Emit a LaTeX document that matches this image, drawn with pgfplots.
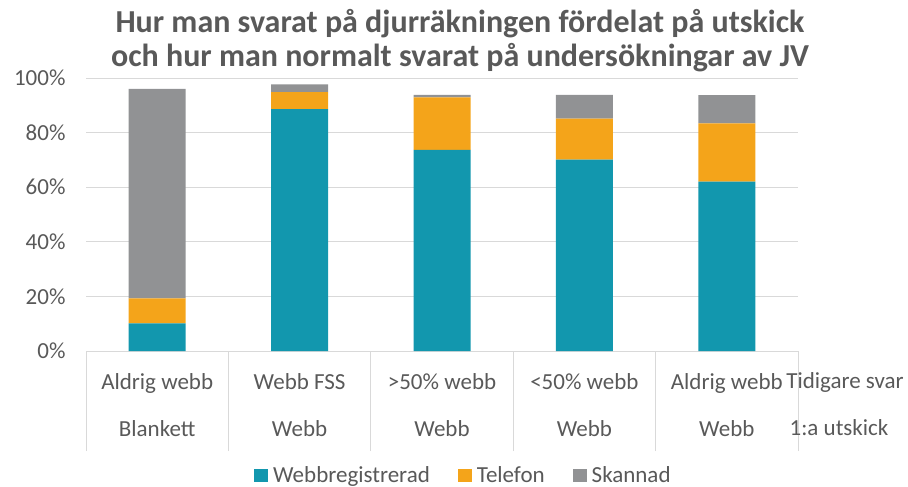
\documentclass[border=0pt]{standalone}
\usepackage{pgfplots}
\pgfplotsset{compat=1.18}
\usepackage{fontspec}
\setmainfont{Carlito}
\definecolor{teal1}{HTML}{1297AE}
\definecolor{orange1}{HTML}{F4A41A}
\definecolor{gray1}{HTML}{919294}
\definecolor{txt}{HTML}{595959}
\definecolor{gridc}{HTML}{D9D9D9}
\begin{document}
\begin{tikzpicture}
\path[use as bounding box] (0bp,0bp) rectangle (908bp,487bp);
\begin{axis}[
  at={(86bp,136bp)}, anchor=south west,
  width=712bp, height=273bp, scale only axis,
  clip=false,
  ybar stacked, bar width=57bp,
  xmin=-0.5, xmax=4.5, ymin=0, ymax=100,
  ytick={0,20,...,100},
  yticklabel={\pgfmathprintnumber{\tick}\%},
  /pgf/number format/assume math mode=true,
  ymajorgrids, grid style={gridc, line width=0.9bp},
  axis line style={draw=none},
  major tick length=0pt,
  ytick style={draw=none},
  xtick={0,1,2,3,4},
  xticklabels={Aldrig webb\\Blankett, Webb FSS\\Webb, >50\% webb\\Webb, <50\% webb\\Webb, Aldrig webb\\Webb},
  xtick style={draw=none},
  xticklabel style={align=center, font=\fontsize{23bp}{47bp}\selectfont, yshift=-19bp},
  extra x ticks={-0.5,0.5,...,4.5},
  extra x tick labels={},
  extra x tick style={major tick length=100bp, tick align=outside, xtick pos=bottom,
     xtick style={draw=gridc, line width=0.9bp}},
  ticklabel style={font=\fontsize{23bp}{28bp}\selectfont, text=txt},
  yticklabel style={xshift=-17bp},
  legend style={at={(0.530,-0.455)}, anchor=center, draw=none, legend columns=3,
    font=\fontsize{23bp}{26bp}\selectfont, text=txt, inner sep=0pt,
    /tikz/every odd column/.append style={column sep=3bp},
    /tikz/every even column/.append style={column sep=26bp}},
  legend image code/.code={\fill[#1] (0bp,-6.5bp) rectangle (14bp,6.5bp);},
]
\addplot[fill=teal1, draw=none] coordinates {(0,10.1) (1,88.6) (2,73.7) (3,70.1) (4,62.0)};
\addplot[fill=orange1, draw=none] coordinates {(0,9.2) (1,6.2) (2,19.2) (3,15.0) (4,21.4)};
\addplot[fill=gray1, draw=none] coordinates {(0,76.7) (1,2.9) (2,0.9) (3,8.7) (4,10.3)};
\legend{Webbregistrerad, Telefon, Skannad}
\node[text=txt, font=\fontsize{23bp}{28bp}\selectfont] at (rel axis cs:1.0,0) [yshift=-31bp, xshift=47bp] {Tidigare svar};
\node[text=txt, font=\fontsize{23bp}{28bp}\selectfont] at (rel axis cs:1.0,0) [yshift=-77bp, xshift=41bp] {1:a utskick};
\end{axis}
\node[text=txt, font=\bfseries\fontsize{32bp}{34bp}\selectfont, align=center] at (460bp,446.5bp) {Hur man svarat på djurräkningen fördelat på utskick\\och hur man normalt svarat på undersökningar av JV};
\end{tikzpicture}
\end{document}
